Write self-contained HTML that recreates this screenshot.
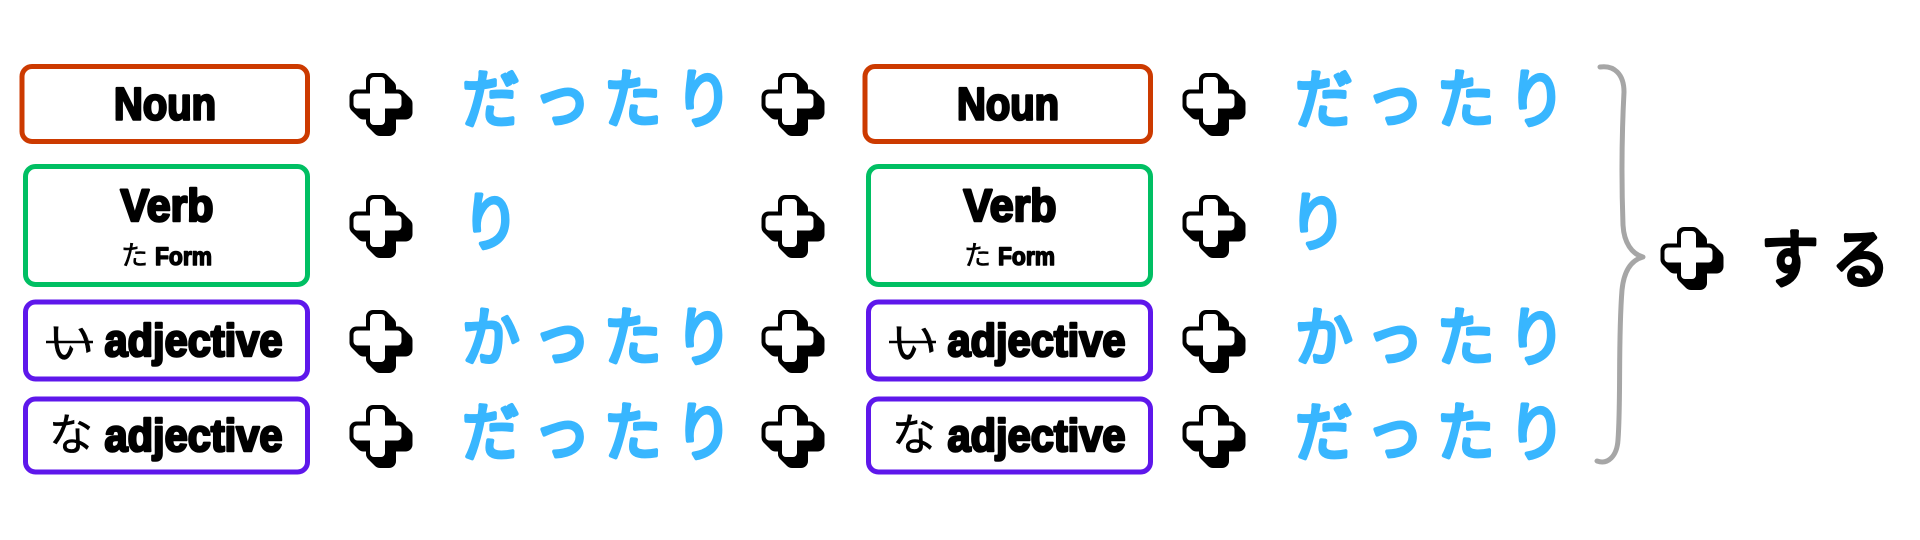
<!DOCTYPE html>
<html lang="ja"><head><meta charset="utf-8"><title>Diagram</title>
<style>
html,body{margin:0;padding:0;background:#fff}
svg{display:block}
.b{font-family:"Liberation Sans","Noto Sans CJK JP",sans-serif;font-weight:700;fill:#000;stroke:#000;stroke-width:2.6;stroke-linejoin:round}
.j{font-family:"Noto Sans CJK JP",sans-serif;font-weight:400;fill:#000;stroke:#000;stroke-width:.5}
.k{font-family:"Noto Sans CJK JP",sans-serif;font-weight:400;font-size:62px;letter-spacing:14.3px;fill:#38b6ff;stroke:#38b6ff;stroke-width:4;stroke-linejoin:round;stroke-linecap:round}
rect.n{fill:#fff;stroke-width:5}
</style></head><body>
<svg width="1920" height="540" viewBox="0 0 1920 540" xmlns="http://www.w3.org/2000/svg">
<defs>
<g id="pa"><rect x="-11.5" y="-28" width="23" height="56" rx="7"/><rect x="-28" y="-11.5" width="56" height="23" rx="7"/></g>
<g id="p">
<use href="#pa" x="7" y="7"/><use href="#pa" x="6" y="6"/><use href="#pa" x="5" y="5"/><use href="#pa" x="4" y="4"/><use href="#pa" x="3" y="3"/><use href="#pa" x="2" y="2"/><use href="#pa" x="1" y="1"/><use href="#pa"/>
<rect x="-7.5" y="-24" width="15" height="48" rx="4" fill="#fff"/><rect x="-24" y="-7.5" width="48" height="15" rx="4" fill="#fff"/>
</g>
</defs>
<rect width="1920" height="540" fill="#fff"/>

<g>
<rect class="n" x="22" y="66.5" width="285.5" height="75" rx="10" stroke="#cc3a00"/>
<text class="b" x="114" y="119.5" font-size="45" textLength="102" lengthAdjust="spacingAndGlyphs">Noun</text>
<rect class="n" x="25.5" y="166.5" width="282" height="118" rx="10" stroke="#00bf63"/>
<text class="b" x="120.5" y="221" font-size="45" textLength="93" lengthAdjust="spacingAndGlyphs">Verb</text>
<text class="j" x="121" y="265" font-size="27">た</text>
<text class="b" x="155" y="265" font-size="25" style="stroke-width:1.5" textLength="57" lengthAdjust="spacingAndGlyphs">Form</text>
<rect class="n" x="25.5" y="302" width="282" height="77" rx="10" stroke="#5e17eb"/>
<text class="j" x="48" y="359" font-size="46">い</text>
<line x1="46" y1="342" x2="93" y2="342" stroke="#000" stroke-width="2.5"/>
<text class="b" x="104.5" y="356" font-size="45" textLength="178" lengthAdjust="spacingAndGlyphs">adjective</text>
<rect class="n" x="25.5" y="399" width="282" height="73" rx="10" stroke="#5e17eb"/>
<text class="j" x="49" y="450" font-size="44">な</text>
<text class="b" x="104.5" y="451" font-size="45" textLength="178" lengthAdjust="spacingAndGlyphs">adjective</text>
</g>

<g transform="translate(843,0)">
<rect class="n" x="22" y="66.5" width="285.5" height="75" rx="10" stroke="#cc3a00"/>
<text class="b" x="114" y="119.5" font-size="45" textLength="102" lengthAdjust="spacingAndGlyphs">Noun</text>
<rect class="n" x="25.5" y="166.5" width="282" height="118" rx="10" stroke="#00bf63"/>
<text class="b" x="120.5" y="221" font-size="45" textLength="93" lengthAdjust="spacingAndGlyphs">Verb</text>
<text class="j" x="121" y="265" font-size="27">た</text>
<text class="b" x="155" y="265" font-size="25" style="stroke-width:1.5" textLength="57" lengthAdjust="spacingAndGlyphs">Form</text>
<rect class="n" x="25.5" y="302" width="282" height="77" rx="10" stroke="#5e17eb"/>
<text class="j" x="48" y="359" font-size="46">い</text>
<line x1="46" y1="342" x2="93" y2="342" stroke="#000" stroke-width="2.5"/>
<text class="b" x="104.5" y="356" font-size="45" textLength="178" lengthAdjust="spacingAndGlyphs">adjective</text>
<rect class="n" x="25.5" y="399" width="282" height="73" rx="10" stroke="#5e17eb"/>
<text class="j" x="49" y="450" font-size="44">な</text>
<text class="b" x="104.5" y="451" font-size="45" textLength="178" lengthAdjust="spacingAndGlyphs">adjective</text>
</g>

<use href="#p" x="377.5" y="101"/><use href="#p" x="377.5" y="223"/><use href="#p" x="377.5" y="338"/><use href="#p" x="377.5" y="433"/>
<use href="#p" x="789.5" y="101"/><use href="#p" x="789.5" y="223"/><use href="#p" x="789.5" y="338"/><use href="#p" x="789.5" y="433"/>
<use href="#p" x="1210.5" y="101"/><use href="#p" x="1210.5" y="223"/><use href="#p" x="1210.5" y="338"/><use href="#p" x="1210.5" y="433"/>
<use href="#p" x="1688.5" y="255"/>

<text class="k" transform="translate(462,122) scale(.93,1.03)">だったり</text>
<text class="k" transform="translate(462,245) scale(.93,1.03)">り</text>
<text class="k" transform="translate(462,360) scale(.93,1.03)">かったり</text>
<text class="k" transform="translate(462,455) scale(.93,1.03)">だったり</text>
<text class="k" transform="translate(1295,122) scale(.93,1.03)">だったり</text>
<text class="k" transform="translate(1289,245) scale(.93,1.03)">り</text>
<text class="k" transform="translate(1295,360) scale(.93,1.03)">かったり</text>
<text class="k" transform="translate(1295,455) scale(.93,1.03)">だったり</text>

<text class="k" transform="translate(1761,282) scale(.93,1.03)" style="fill:#000;stroke:#000">する</text>

<path d="M1600 67 C1614 65 1624 74 1624 92 C1622 130 1621 170 1623 225 C1624 243 1632 254 1643 257 C1632 260 1624 270 1622 290 C1618 340 1621 400 1618 440 C1617 456 1608 465 1597 461" fill="none" stroke="#a6a6a6" stroke-width="5" stroke-linecap="round" stroke-linejoin="round"/>
</svg>
</body></html>
